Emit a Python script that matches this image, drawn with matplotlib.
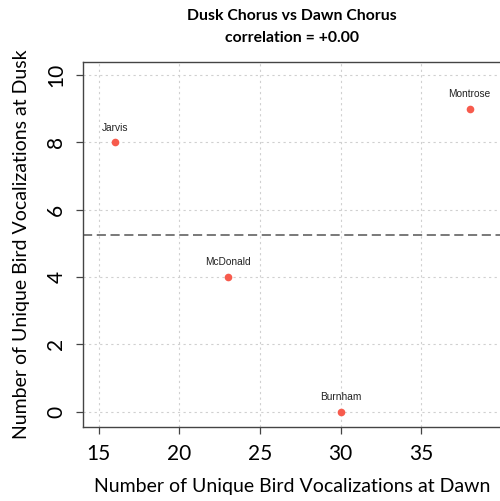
import numpy as np
import matplotlib.pyplot as plt

# survey sites
sites = ["Jarvis", "McDonald", "Burnham", "Montrose"]
dawn = [16, 23, 30, 38]
dusk = [8, 4, 0, 9]

xticks = [15, 20, 25, 30, 35]
yticks = [0, 2, 4, 6, 8, 10]

r = np.corrcoef(dawn, dusk)[0, 1]

fig = plt.figure(figsize=(5, 5.01), dpi=100)
ax = fig.add_axes([0.166, 0.147, 0.838, 0.730])

ax.plot(dawn, dusk, "o", color="#f75b4d", markersize=5.5, markeredgewidth=0, zorder=3)
for name, x, y in zip(sites, dawn, dusk):
    ax.annotate(name, (x, y), xytext=(0, 7), textcoords="offset points",
                ha="center", va="bottom", fontsize=7.3, family="Liberation Sans",
                color="#222222")

ax.axhline(np.mean(dusk), color="#555555", linestyle=(0, (6, 3)), linewidth=1.1, zorder=2)

ax.set_xlim(14.03, 40.0)
ax.set_ylim(-0.463, 10.395)
ax.set_xticks(xticks)
ax.set_yticks(yticks)
ax.grid(True, color="#d0d0d0", linestyle=(0, (2, 3)), linewidth=0.8)
ax.set_axisbelow(True)

for s in ["left", "bottom", "top"]:
    ax.spines[s].set_color("#444444")
    ax.spines[s].set_linewidth(1.0)
ax.spines["right"].set_visible(False)

ax.tick_params(axis="both", direction="out", length=5, width=0.9, color="#444444",
               labelsize=15, pad=7)
for lab in ax.get_xticklabels() + ax.get_yticklabels():
    lab.set_family("Lato")
for lab in ax.get_yticklabels():
    lab.set_rotation(90)
    lab.set_va("center")

ax.set_xlabel("Number of Unique Bird Vocalizations at Dawn", family="Lato",
              fontsize=14, labelpad=10)
ax.set_ylabel("Number of Unique Bird Vocalizations at Dusk", family="Lato",
              fontsize=14, labelpad=12)

fig.text(0.584, 0.983, "Dusk Chorus vs Dawn Chorus\ncorrelation = %+.2f" % r,
         ha="center", va="top", fontsize=11.3, fontweight="bold", family="Lato",
         linespacing=1.75)

fig.savefig("out.png", dpi=100)
